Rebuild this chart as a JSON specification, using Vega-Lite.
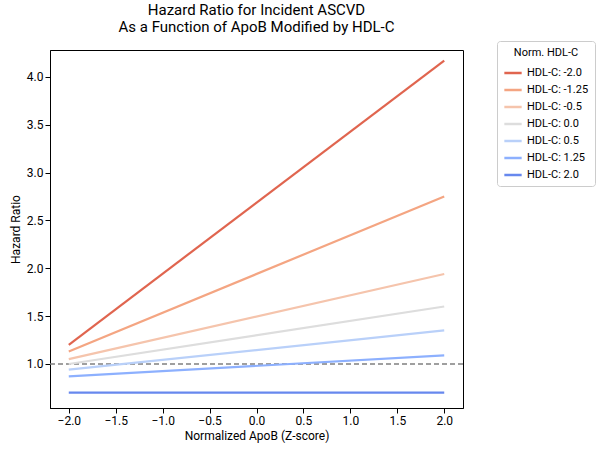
{
  "$schema": "https://vega.github.io/schema/vega-lite/v6.json",
  "autosize": "none",
  "padding": {"left": 50, "top": 50, "right": 145, "bottom": 48},
  "width": 413,
  "height": 358,
  "config": {"font": "Roboto", "view": {"stroke": "black"}},
  "title": {"text": ["Hazard Ratio for Incident ASCVD", "As a Function of ApoB Modified by HDL-C"], "fontSize": 15, "fontWeight": "normal", "offset": 6},
  "data": {"values": [
    {"hdl": "HDL-C: -2.0", "apob": -2, "hr": 1.2}, {"hdl": "HDL-C: -2.0", "apob": 2, "hr": 4.17},
    {"hdl": "HDL-C: -1.25", "apob": -2, "hr": 1.13}, {"hdl": "HDL-C: -1.25", "apob": 2, "hr": 2.75},
    {"hdl": "HDL-C: -0.5", "apob": -2, "hr": 1.05}, {"hdl": "HDL-C: -0.5", "apob": 2, "hr": 1.94},
    {"hdl": "HDL-C: 0.0", "apob": -2, "hr": 1.0}, {"hdl": "HDL-C: 0.0", "apob": 2, "hr": 1.6},
    {"hdl": "HDL-C: 0.5", "apob": -2, "hr": 0.94}, {"hdl": "HDL-C: 0.5", "apob": 2, "hr": 1.35},
    {"hdl": "HDL-C: 1.25", "apob": -2, "hr": 0.87}, {"hdl": "HDL-C: 1.25", "apob": 2, "hr": 1.09},
    {"hdl": "HDL-C: 2.0", "apob": -2, "hr": 0.7}, {"hdl": "HDL-C: 2.0", "apob": 2, "hr": 0.7}
  ]},
  "layer": [
    {
      "mark": {"type": "rule", "strokeDash": [5, 3], "color": "gray", "strokeWidth": 1.5},
      "data": {"values": [{"y": 1}]},
      "encoding": {"y": {"field": "y", "type": "quantitative"}}
    },
    {
      "mark": {"type": "line", "strokeWidth": 2.2, "clip": true},
      "encoding": {
        "x": {"field": "apob", "type": "quantitative", "title": "Normalized ApoB (Z-score)",
          "scale": {"domain": [-2.2, 2.2], "nice": false},
          "axis": {"values": [-2, -1.5, -1, -0.5, 0, 0.5, 1, 1.5, 2], "format": ".1f", "grid": false, "labelFontSize": 12, "titleFontSize": 12, "titleFontWeight": "normal", "tickColor": "black", "domainColor": "black", "labelColor": "black"}},
        "y": {"field": "hr", "type": "quantitative", "title": "Hazard Ratio",
          "scale": {"domain": [0.54, 4.28], "nice": false, "zero": false},
          "axis": {"values": [1, 1.5, 2, 2.5, 3, 3.5, 4], "format": ".1f", "grid": false, "labelFontSize": 12, "titleFontSize": 12, "titleFontWeight": "normal", "tickColor": "black", "domainColor": "black", "labelColor": "black"}},
        "color": {"field": "hdl", "type": "nominal",
          "scale": {"domain": ["HDL-C: -2.0", "HDL-C: -1.25", "HDL-C: -0.5", "HDL-C: 0.0", "HDL-C: 0.5", "HDL-C: 1.25", "HDL-C: 2.0"],
            "range": ["#e0654f", "#f4a582", "#f5c4ac", "#dddddd", "#b9d0f9", "#8db0fe", "#6788ee"]},
          "legend": {"title": "Norm. HDL-C", "orient": "none", "legendX": 447, "legendY": -9, "symbolType": "stroke", "symbolStrokeWidth": 2.5, "symbolSize": 300, "labelFontSize": 11, "titleFontSize": 11, "titleFontWeight": "normal", "titleAnchor": "middle", "strokeColor": "#cccccc", "padding": 6, "cornerRadius": 3}}
      }
    }
  ]
}
